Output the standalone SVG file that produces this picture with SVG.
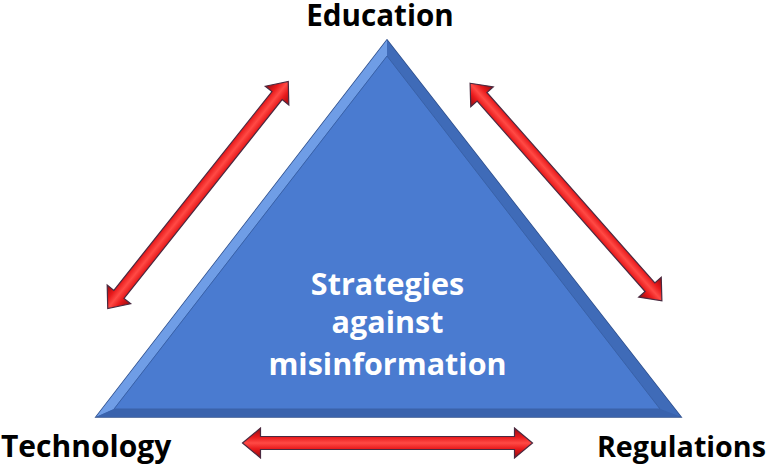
<svg xmlns="http://www.w3.org/2000/svg" width="768" height="466" viewBox="0 0 768 466">
<defs>
<linearGradient id="red" x1="0" y1="0" x2="0" y2="1">
<stop offset="0" stop-color="#8f0d12"/>
<stop offset="0.3" stop-color="#e8191b"/>
<stop offset="0.5" stop-color="#ff4a45"/>
<stop offset="0.7" stop-color="#e8191b"/>
<stop offset="1" stop-color="#8f0d12"/>
</linearGradient>
<polygon id="arrow" points="-145,0 -127,-15 -127,-6.5 127,-6.5 127,-15 145,0 127,15 127,6.5 -127,6.5 -127,15" fill="url(#red)" stroke="#4a2a40" stroke-width="1.2" stroke-linejoin="miter"/>
<style>
.lbl{font-family:"Open Sans","Liberation Sans",sans-serif;font-weight:bold;fill:#000;}
.ctr{font-family:"Open Sans","Liberation Sans",sans-serif;font-weight:bold;font-size:30.5px;fill:#fff;text-anchor:middle;}
</style>
</defs>
<g id="triangle">
<polygon points="387,40 96,417 681,417" fill="#3a65b0" stroke="#2e4f8c" stroke-width="1.5"/>
<polygon points="387,40 96,417 114,409 387,56" fill="#6f9de6"/>
<polygon points="387,40 681,417 660,409 387,56" fill="#3f6bb8"/>
<polygon points="96,417 681,417 660,409 114,409" fill="#3a63ad"/>
<polygon points="387,56 114,409 660,409" fill="#4a7bd0" stroke="#3a62a8" stroke-width="1"/>
</g>
<g id="center-label">
<text class="ctr" x="387.5" y="295">Strategies</text>
<text class="ctr" x="387.5" y="333">against</text>
<text class="ctr" x="387.5" y="375">misinformation</text>
</g>
<g id="education"><text class="lbl" x="380" y="26" text-anchor="middle" font-size="29.6">Education</text></g>
<g id="technology"><text class="lbl" x="1" y="457" font-size="30">Technology</text></g>
<g id="regulations"><text class="lbl" x="766" y="457" text-anchor="end" font-size="28.7">Regulations</text></g>
<g id="connectors">
<use href="#arrow" transform="translate(198,195) rotate(-51.5)"/>
<use href="#arrow" transform="translate(566,192) rotate(48.6)"/>
<use href="#arrow" transform="translate(387.5,443)"/>
</g>
</svg>
